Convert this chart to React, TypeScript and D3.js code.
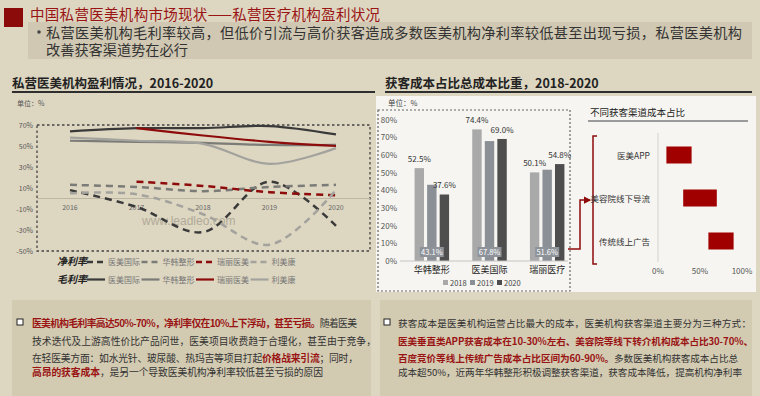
import React from "react";
import * as d3 from "d3";

// ---- left chart: margins 2016-2020 (%)
const years = ["2016", "2017", "2018", "2019", "2020"];
const companies = ["医美国际", "华韩整形", "瑞丽医美", "利美康"];
const grossYimei = [64, 67, 67, 69, 61];
const grossHuahan = [55, 54, 53, 51, 51];
const grossRuili = [null, 67, 60, 54, 50];
const grossLimeikang = [58, 55, 52, 33, 48];
const netYimei = [8, -8, -32, 16, -26];
const netHuahan = [13, 11, 7, 11, 13];
const netRuili = [null, 16, 12, 6, 3];
const netLimeikang = [5, 4, -15, -44, 8];
const leftTicks = [70, 50, 30, 10, -10, -30, -50];

// ---- right chart: acquisition cost share (%)
const barCats = ["华韩整形", "医美国际", "瑞丽医疗"];
const barYears = ["2018", "2019", "2020"];
const cost2018 = [52.5, 74.4, 50.1];
const cost2019 = [43.1, 67.8, 51.6];
const cost2020 = [37.6, 69.0, 54.8];
const barTicks = [0, 10, 20, 30, 40, 50, 60, 70, 80];

// ---- channel cost ranges (%)
const channels = ["医美APP", "美容院线下导流", "传统线上广告"];
const channelLow = [10, 30, 60];
const channelHigh = [40, 70, 90];
const channelTicks = [0, 50, 100];

const FONT = "'Noto Sans CJK SC', 'Noto Sans', sans-serif";
const RED = "#9a1414";
const companyColors = ["#3a3a3a", "#7b7b78", "#8e0b0b", "#a3a29d"];
const yearColors = ["#a9a9a9", "#8b9096", "#4e4e4e"];

export default function App() {
  // left line chart scales
  const x = d3.scalePoint<string>().domain(years).range([70, 336]);
  const y = d3.scaleLinear().domain([-50, 70]).range([251, 125]);
  const line = d3
    .line<number | null>()
    .defined((d) => d != null)
    .x((_, i) => x(years[i]) as number)
    .y((d) => y(d as number))
    .curve(d3.curveCatmullRom.alpha(0.5));

  const gross = [grossYimei, grossHuahan, grossRuili, grossLimeikang];
  const net = [netYimei, netHuahan, netRuili, netLimeikang];

  // bar chart scales
  const bx = d3.scaleBand<string>().domain(barCats).range([403, 576]);
  const bxi = d3.scaleBand<string>().domain(barYears).range([-17.25, 17.25]).paddingInner(0.25);
  const by = d3.scaleLinear().domain([0, 80]).range([261, 119.5]);
  const costs = [cost2018, cost2019, cost2020];
  const groupX = (c: string) => (bx(c) as number) + bx.bandwidth() / 2;
  const barMid = (yr: string) => (bxi(yr) as number) + bxi.bandwidth() / 2;

  // channel range chart
  const cx = d3.scaleLinear().domain([0, 100]).range([658, 742]);
  const cy = d3.scalePoint<string>().domain(channels).range([155, 241]);

  const legendX = [87, 141.5, 196, 250.5];

  return (
    <svg
      width={760}
      height={396}
      style={{ position: "absolute", left: 0, top: 0, fontFamily: FONT }}
    >
      <rect width={760} height={396} fill="#ddd6c1" />

      {/* header */}
      <rect x={4} y={8} width={19} height={19} fill="#8b0a0a" />
      <text x={30} y={19.5} fontSize={14.5} fill={RED} textLength={350}>
        中国私营医美机构市场现状——私营医疗机构盈利状况
      </text>
      <rect x={28} y={22} width={724} height={37} fill="#d0c8b2" />
      <circle cx={39} cy={32} r={1.8} fill="#444" />
      <text x={46} y={37.5} fontSize={14.2} fill="#333" textLength={696}>
        私营医美机构毛利率较高，但低价引流与高价获客造成多数医美机构净利率较低甚至出现亏损，私营医美机构
      </text>
      <text x={46} y={54.5} fontSize={14.2} fill="#333">
        改善获客渠道势在必行
      </text>

      {/* section titles */}
      <text x={12} y={88} fontSize={12.5} fontWeight="bold" fill="#222">
        私营医美机构盈利情况，2016-2020
      </text>
      <line x1={12} x2={375} y1={92} y2={92} stroke="#2e2e2e" strokeWidth={2} />
      <text x={385} y={88} fontSize={12.5} fontWeight="bold" fill="#222">
        获客成本占比总成本比重，2018-2020
      </text>
      <line x1={385} x2={752} y1={92} y2={92} stroke="#2e2e2e" strokeWidth={2} />

      {/* ---------- left chart ---------- */}
      <text x={17} y={106} fontSize={7} fill="#555">单位：%</text>
      <rect x={37} y={125} width={333} height={126} fill="none" stroke="#444" strokeWidth={1.3} strokeDasharray="2.5,2.5" />
      {leftTicks.map((t) => (
        <text key={t} x={33} y={y(t) + 2.5} fontSize={7} fill="#555" textAnchor="end">
          {t}%
        </text>
      ))}
      <line x1={37} x2={370} y1={y(0)} y2={y(0)} stroke="#bdb6a2" strokeWidth={1} />
      {years.map((yr) => (
        <text key={yr} x={x(yr)} y={210} fontSize={7} fill="#666" textAnchor="middle">
          {yr}
        </text>
      ))}
      <text x={142} y={225} fontSize={12} fill="#9d9888" opacity={0.7} fontFamily="'Liberation Sans', sans-serif">
        www.leadleo.com
      </text>
      {gross.map((s, i) => (
        <path key={"g" + i} d={line(s) || ""} fill="none" stroke={companyColors[i]} strokeWidth={2.2} />
      ))}
      {net.map((s, i) => (
        <path
          key={"n" + i}
          d={line(s) || ""}
          fill="none"
          stroke={companyColors[i]}
          strokeWidth={2.5}
          strokeDasharray="7,5"
        />
      ))}

      {/* legend */}
      <text x={57} y={265} fontSize={10} fontWeight="bold" fontStyle="italic" fill="#222">净利率</text>
      <text x={57} y={283} fontSize={10} fontWeight="bold" fontStyle="italic" fill="#222">毛利率</text>
      {companies.map((c, i) => (
        <g key={c}>
          <line x1={legendX[i]} x2={legendX[i] + 18} y1={262} y2={262} stroke={companyColors[i]} strokeWidth={2.5} strokeDasharray="6,4" />
          <text x={legendX[i] + 21} y={265} fontSize={8} fill="#777">{c}</text>
          <line x1={legendX[i]} x2={legendX[i] + 18} y1={279.5} y2={279.5} stroke={companyColors[i]} strokeWidth={2.2} />
          <text x={legendX[i] + 21} y={282.5} fontSize={8} fill="#777">{c}</text>
        </g>
      ))}

      {/* ---------- right panel ---------- */}
      <rect x={376} y={96} width={380} height={196} fill="#f6f5f1" />
      <text x={388} y={106} fontSize={7.5} fill="#444">单位：%</text>
      <rect x={378} y={110} width={192} height={181} fill="none" stroke="#666" strokeWidth={1.2} strokeDasharray="2,2" />
      {barTicks.map((t) => (
        <text key={t} x={397} y={by(t) + 3} fontSize={8} fill="#555" textAnchor="end">
          {t}%
        </text>
      ))}
      {/* bars first */}
      {barCats.map((c, ci) => (
        <g key={c} transform={`translate(${groupX(c)},0)`}>
          {barYears.map((yr, yi) => {
            const v = costs[yi][ci];
            return (
              <rect key={yr} x={bxi(yr)} y={by(v)} width={bxi.bandwidth()} height={by(0) - by(v)} fill={yearColors[yi]} />
            );
          })}
        </g>
      ))}
      {/* then value labels and category names */}
      {barCats.map((c, ci) => (
        <g key={c + "-lab"} transform={`translate(${groupX(c)},0)`}>
          {barYears.map((yr, yi) => {
            const v = costs[yi][ci];
            const m = barMid(yr);
            return yi === 1 ? (
              <g key={yr}>
                <rect x={m - 12} y={247} width={24} height={10} fill="#8e939a" />
                <text x={m} y={255} fontSize={7.5} fill="#fff" textAnchor="middle">{v.toFixed(1)}%</text>
              </g>
            ) : (
              <text key={yr} x={m} y={by(v) - 6} fontSize={8} fill="#333" textAnchor="middle">{v.toFixed(1)}%</text>
            );
          })}
          <text x={0} y={273} fontSize={9} fill="#222" textAnchor="middle">{c}</text>
        </g>
      ))}
      <line x1={400} x2={568} y1={by(0)} y2={by(0)} stroke="#c4c4c4" strokeWidth={1} />
      {barYears.map((yr, i) => (
        <g key={yr}>
          <rect x={443 + i * 27} y={280} width={5} height={5} fill={yearColors[i]} />
          <text x={450 + i * 27} y={286} fontSize={7.5} fill="#444">{yr}</text>
        </g>
      ))}

      {/* connector + bracket */}
      <defs>
        <marker id="arr" viewBox="0 0 6 6" refX={5} refY={3} markerWidth={5} markerHeight={5} orient="auto">
          <path d="M0,0 L6,3 L0,6 Z" fill="#8e0b0b" />
        </marker>
      </defs>
      <path d="M568,249 H580 V200 H590" fill="none" stroke="#8e0b0b" strokeWidth={1.5} markerEnd="url(#arr)" />
      <path d="M597,136 H593 V264 H597" fill="none" stroke="#8e0b0b" strokeWidth={1.5} />

      {/* channel range chart */}
      <text x={590} y={116} fontSize={9.5} fill="#222">不同获客渠道成本占比</text>
      <line x1={588} x2={748} y1={121} y2={121} stroke="#9a9a9a" strokeWidth={2} />
      <line x1={cx(0)} x2={cx(0)} y1={133} y2={262} stroke="#d2d2d2" strokeWidth={1} />
      {channels.map((c, i) => (
        <g key={c}>
          <rect x={cx(channelLow[i])} y={(cy(c) as number) - 8.5} width={cx(channelHigh[i]) - cx(channelLow[i])} height={17} fill="#a00000" />
          <text x={650} y={(cy(c) as number) + 3.5} fontSize={8.5} fill="#333" textAnchor="end">{c}</text>
        </g>
      ))}
      {channelTicks.map((t) => (
        <text key={t} x={cx(t)} y={274} fontSize={8} fill="#555" textAnchor="middle">{t}%</text>
      ))}

      {/* ---------- bottom boxes ---------- */}
      <rect x={12} y={300} width={359} height={100} fill="#d2cab1" />
      <rect x={380} y={300} width={372} height={100} fill="#d2cab1" />

      <rect x={17} y={319} width={6} height={6} fill="#fff" stroke="#222" strokeWidth={1} />
      <text x={32} y={327} fontSize={9.8} fill="#333" textLength={325}>
        <tspan fill={RED} fontWeight="bold">医美机构毛利率高达50%-70%，净利率仅在10%上下浮动，甚至亏损。</tspan>
        <tspan>随着医美</tspan>
      </text>
      <text x={32} y={345} fontSize={9.8} fill="#333" textLength={344}>
        技术迭代及上游高性价比产品问世，医美项目收费趋于合理化，甚至由于竞争，
      </text>
      <text x={32} y={362} fontSize={9.8} fill="#333" textLength={326}>
        <tspan>在轻医美方面：如水光针、玻尿酸、热玛吉等项目打起</tspan>
        <tspan fill={RED} fontWeight="bold">价格战来引流</tspan>
        <tspan>；同时，</tspan>
      </text>
      <text x={32} y={376} fontSize={9.8} fill="#333" textLength={291}>
        <tspan fill={RED} fontWeight="bold">高昂的获客成本</tspan>
        <tspan>，是另一个导致医美机构净利率较低甚至亏损的原因</tspan>
      </text>

      <rect x={384} y={319} width={6} height={6} fill="#fff" stroke="#222" strokeWidth={1} />
      <text x={398} y={327} fontSize={9.6} fill="#333" textLength={353}>
        获客成本是医美机构运营占比最大的成本，医美机构获客渠道主要分为三种方式：
      </text>
      <text x={398} y={345} fontSize={9.6} fill={RED} fontWeight="bold" textLength={355}>
        医美垂直类APP获客成本在10-30%左右、美容院等线下转介机构成本占比30-70%、
      </text>
      <text x={398} y={362} fontSize={9.6} fill="#333" textLength={340}>
        <tspan fill={RED} fontWeight="bold">百度竞价等线上传统广告成本占比区间为60-90%。</tspan>
        <tspan>多数医美机构获客成本占比总</tspan>
      </text>
      <text x={398} y={376} fontSize={9.6} fill="#333" textLength={344}>
        成本超50%，近两年华韩整形积极调整获客渠道，获客成本降低，提高机构净利率
      </text>
    </svg>
  );
}
